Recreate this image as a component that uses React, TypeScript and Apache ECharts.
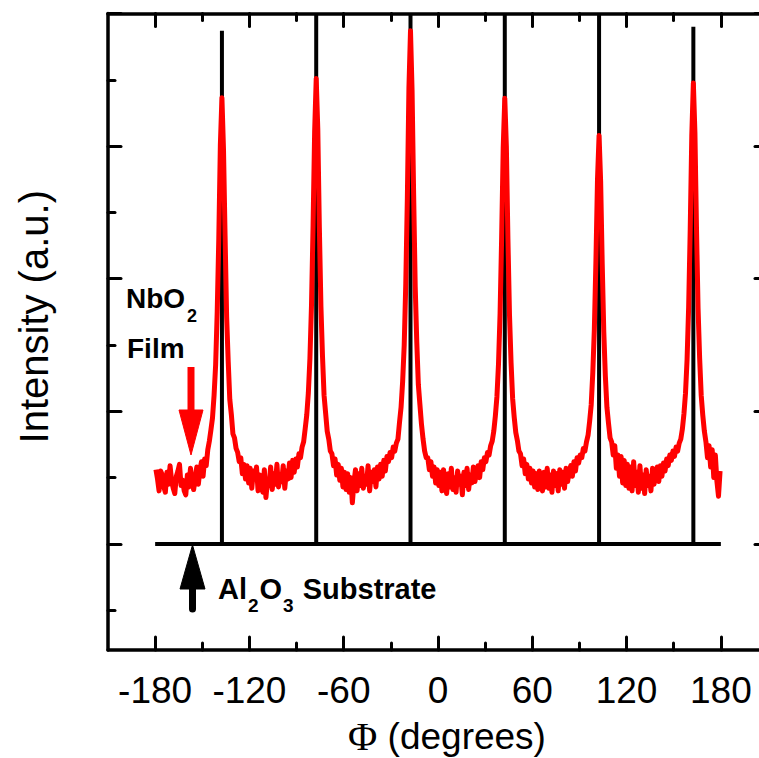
import React, { useEffect, useRef } from 'react';
import * as echarts from 'echarts';

// ---- axis ranges and ticks ----
const PHI_MIN = -210;
const PHI_MAX = 210;
const INT_MIN = -1.6;
const INT_MAX = 8;
const phiMajorTicks = [-180, -120, -60, 0, 60, 120, 180];
const phiMinorTicks = [-150, -90, -30, 30, 90, 150];
const intMajorTicks = [0, 2, 4, 6, 8];
const intMinorTicks = [-1, 1, 3, 5, 7];

// ---- NbO2 film phi scan (red), sampled every 1 degree from -179.5 ----
const filmPhiStart = -179.5;
const filmPhiStep = 1;
const filmIntensity = [
  // -179.5 .. -145.5
  1.12, 0.98, 0.80, 1.10, 1.04, 0.86, 0.78, 1.08, 0.90, 1.18,
  0.95, 0.84, 0.76, 1.02, 1.10, 1.20, 0.88, 0.96, 0.80, 0.74,
  1.04, 0.86, 1.14, 0.92, 0.82, 1.00, 1.16, 0.90, 1.12, 1.24,
  1.02, 1.28, 1.18, 1.42, 1.55,
  // peak 1
  1.72, 1.90, 2.24, 2.70, 3.50, 4.60, 6.02, 6.73, 5.95, 4.65, 3.42, 2.75, 2.18, 1.95, 1.66,
  // valley 1
  1.60, 1.44, 1.38, 1.24, 1.30, 1.06, 1.20, 0.98, 1.18, 0.92,
  1.14, 0.84, 1.10, 0.98, 1.16, 0.80, 1.04, 0.92, 0.78, 1.12,
  0.70, 0.96, 0.88, 1.16, 0.82, 1.06, 0.90, 1.20, 0.86, 1.02,
  0.94, 1.18, 0.84, 1.10, 0.98, 1.22, 1.00, 1.26, 1.08, 1.28,
  1.16, 1.36, 1.30, 1.46, 1.54,
  // peak 2
  1.74, 1.95, 2.28, 2.80, 3.60, 4.80, 6.22, 7.02, 6.26, 4.77, 3.58, 2.83, 2.24, 1.97, 1.70,
  // valley 2
  1.58, 1.40, 1.36, 1.18, 1.28, 1.04, 1.20, 0.96, 1.14, 0.86,
  1.08, 0.82, 1.06, 0.78, 1.00, 0.62, 0.92, 1.12, 0.80, 1.06,
  0.88, 1.14, 0.84, 1.02, 0.90, 1.18, 0.80, 1.08, 0.94, 1.12,
  0.86, 1.16, 0.98, 1.20, 1.02, 1.26, 1.10, 1.32, 1.24, 1.38,
  1.30, 1.46, 1.40, 1.52, 1.58,
  // peak 3
  1.83, 2.06, 2.45, 3.00, 3.93, 5.22, 6.88, 7.74, 6.84, 5.27, 3.88, 3.04, 2.40, 2.10, 1.80,
  // valley 3
  1.58, 1.40, 1.30, 1.30, 1.12, 1.24, 1.02, 1.16, 0.92, 1.12,
  0.88, 1.08, 0.80, 1.12, 0.92, 0.76, 1.06, 0.86, 1.14, 0.82,
  1.00, 0.78, 1.10, 0.90, 1.02, 0.74, 1.08, 0.88, 1.14, 0.82,
  1.04, 0.92, 1.16, 0.94, 1.08, 1.18, 1.00, 1.24, 1.12, 1.30,
  1.24, 1.38, 1.34, 1.48, 1.55,
  // peak 4
  1.70, 1.93, 2.22, 2.71, 3.47, 4.62, 5.98, 6.72, 6.00, 4.60, 3.45, 2.73, 2.19, 1.91, 1.68,
  // valley 4
  1.56, 1.40, 1.36, 1.18, 1.28, 1.06, 1.20, 0.98, 1.14, 0.92,
  1.10, 0.86, 1.06, 0.82, 1.10, 0.90, 0.80, 1.08, 0.86, 1.14,
  0.84, 1.04, 0.78, 1.10, 0.88, 1.06, 0.80, 1.12, 0.90, 1.08,
  0.84, 1.14, 0.94, 1.10, 1.18, 1.02, 1.24, 1.10, 1.30, 1.22,
  1.34, 1.30, 1.44, 1.40, 1.54,
  // peak 5
  1.64, 1.85, 2.10, 2.58, 3.24, 4.27, 5.50, 6.16, 5.47, 4.23, 3.20, 2.53, 2.06, 1.82, 1.60,
  // valley 5
  1.54, 1.34, 1.48, 1.14, 1.34, 1.02, 1.32, 0.92, 1.26, 0.88,
  1.20, 0.84, 1.16, 0.80, 1.24, 0.88, 1.08, 0.78, 1.18, 0.84,
  1.04, 0.76, 1.12, 0.88, 1.02, 0.80, 1.14, 0.90, 1.06, 1.16,
  0.94, 1.18, 1.02, 1.22, 1.10, 1.28, 1.18, 1.34, 1.26, 1.40,
  1.32, 1.46, 1.40, 1.52, 1.58,
  // peak 6
  1.73, 1.96, 2.27, 2.78, 3.57, 4.74, 6.16, 6.95, 6.20, 4.76, 3.55, 2.80, 2.24, 1.94, 1.70,
  // 170.5 .. 179.5
  1.54, 1.30, 1.48, 1.16, 1.42, 1.00, 1.34, 0.94, 0.72, 1.10,
];

// ---- Al2O3 substrate phi scan (black) ----
const substrateSpan = [-180, 180];
const substrateBaseline = 0;
const substratePeakPhi = [-137.5, -77.5, -17.5, 42.5, 102.5, 162.5];
const substratePeakHeight = [7.74, 8.0, 8.0, 8.0, 8.0, 7.8];

const FONT = '"Liberation Sans", Arial, Helvetica, sans-serif';

function buildOption() {
  const filmData = filmIntensity.map((v, i) => [filmPhiStart + i * filmPhiStep, v]);
  const substrateData: number[][] = [[substrateSpan[0], substrateBaseline]];
  substratePeakPhi.forEach((p, i) => {
    substrateData.push([p, substrateBaseline], [p, substratePeakHeight[i]], [p, substrateBaseline]);
  });
  substrateData.push([substrateSpan[1], substrateBaseline]);

  const axisLine = { show: true, onZero: false, lineStyle: { color: '#000', width: 3.5 } };
  const noLine = { show: false, onZero: false };
  const tick = (values: number[], len: number) => ({
    show: true,
    inside: true,
    length: len,
    customValues: values,
    lineStyle: { color: '#000', width: 3, cap: 'round' },
  });

  const xBase = { type: 'value', min: PHI_MIN, max: PHI_MAX, splitLine: { show: false } };
  const yBase = { type: 'value', min: INT_MIN, max: INT_MAX, splitLine: { show: false } };

  return {
    animation: false,
    backgroundColor: '#fff',
    grid: { left: 108, top: 13.5, width: 660, height: 636.5, containLabel: false, outerBoundsMode: 'none' },
    xAxis: [
      {
        ...xBase,
        position: 'bottom',
        axisLine,
        axisTick: tick(phiMajorTicks, 13),
        axisLabel: {
          show: true,
          customValues: phiMajorTicks,
          margin: 22,
          color: '#000',
          fontFamily: FONT,
          fontSize: 37,
        },
        name: '{phi|\u03A6} (degrees)',
        nameLocation: 'middle',
        nameGap: 66,
        nameTextStyle: {
          color: '#000',
          fontFamily: FONT,
          fontSize: 37,
          padding: [0, 0, 0, 18],
          rich: { phi: { fontFamily: '"Liberation Serif", "Times New Roman", serif', fontSize: 40, color: '#000' } },
        },
      },
      { ...xBase, position: 'bottom', axisLine: noLine, axisTick: tick(phiMinorTicks, 7), axisLabel: { show: false } },
      { ...xBase, position: 'top', axisLine, axisTick: tick(phiMajorTicks, 13), axisLabel: { show: false } },
      { ...xBase, position: 'top', axisLine: noLine, axisTick: tick(phiMinorTicks, 7), axisLabel: { show: false } },
    ],
    yAxis: [
      {
        ...yBase,
        position: 'left',
        axisLine,
        axisTick: tick(intMajorTicks, 13),
        axisLabel: { show: false },
        name: 'Intensity (a.u.)',
        nameLocation: 'middle',
        nameRotate: 90,
        nameGap: 54,
        nameTextStyle: { color: '#000', fontFamily: FONT, fontSize: 40, padding: [0, 0, 0, 30] },
      },
      { ...yBase, position: 'left', axisLine: noLine, axisTick: tick(intMinorTicks, 7), axisLabel: { show: false } },
      { ...yBase, position: 'right', axisLine, axisTick: tick(intMajorTicks, 13), axisLabel: { show: false } },
      { ...yBase, position: 'right', axisLine: noLine, axisTick: tick(intMinorTicks, 7), axisLabel: { show: false } },
    ],
    series: [
      {
        name: 'Al2O3 Substrate',
        type: 'line',
        xAxisIndex: 0,
        yAxisIndex: 0,
        data: substrateData,
        showSymbol: false,
        symbol: 'none',
        clip: true,
        z: 2,
        lineStyle: { color: '#000', width: 4, join: 'miter', cap: 'butt' },
      },
      {
        name: 'NbO2 Film',
        type: 'line',
        xAxisIndex: 0,
        yAxisIndex: 0,
        data: filmData,
        showSymbol: false,
        symbol: 'none',
        clip: true,
        z: 3,
        lineStyle: { color: '#ff0000', width: 5, join: 'round' },
      },
    ],
    graphic: [
      {
        type: 'text',
        z: 10,
        style: {
          text: '{m|NbO}{s|2}',
          x: 126,
          y: 284,
          verticalAlign: 'top',
          fill: '#000',
          fontFamily: FONT,
          fontSize: 28,
          fontWeight: 'bold',
          rich: {
            m: { fontFamily: FONT, fontSize: 28, fontWeight: 'bold', verticalAlign: 'top', fill: '#000' },
            s: { fontFamily: FONT, fontSize: 18, fontWeight: 'bold', verticalAlign: 'top', padding: [23, 0, 0, 2], fill: '#000' },
          },
        },
      },
      {
        type: 'text',
        z: 10,
        style: { text: 'Film', x: 127, y: 348, verticalAlign: 'middle', fill: '#000', fontFamily: FONT, fontSize: 28, fontWeight: 'bold' },
      },
      {
        type: 'line',
        z: 10,
        shape: { x1: 191, y1: 367, x2: 191, y2: 414 },
        style: { stroke: '#ff0000', lineWidth: 7, lineCap: 'butt' },
      },
      {
        type: 'polygon',
        z: 10,
        shape: { points: [[179, 410], [203, 410], [191, 455]] },
        style: { fill: '#ff0000', stroke: '#ff0000', lineWidth: 1, lineJoin: 'round' },
      },
      {
        type: 'line',
        z: 10,
        shape: { x1: 192.5, y1: 586, x2: 192.5, y2: 609 },
        style: { stroke: '#000', lineWidth: 7, lineCap: 'round' },
      },
      {
        type: 'polygon',
        z: 10,
        shape: { points: [[180, 589], [205, 589], [192.5, 545]] },
        style: { fill: '#000', stroke: '#000', lineWidth: 1, lineJoin: 'round' },
      },
      {
        type: 'text',
        z: 10,
        style: {
          text: '{m|Al}{s|2}{m|O}{s|3}{m| Substrate}',
          x: 218,
          y: 574,
          verticalAlign: 'top',
          fill: '#000',
          fontFamily: FONT,
          fontSize: 29,
          fontWeight: 'bold',
          rich: {
            m: { fontFamily: FONT, fontSize: 29, fontWeight: 'bold', verticalAlign: 'top', fill: '#000' },
            s: { fontFamily: FONT, fontSize: 19, fontWeight: 'bold', verticalAlign: 'top', padding: [22, 1, 0, 1], fill: '#000' },
          },
        },
      },
    ],
  };
}

export default function App() {
  const ref = useRef<HTMLDivElement>(null);
  useEffect(() => {
    if (!ref.current) return;
    const chart = echarts.init(ref.current, undefined, { renderer: 'svg' });
    chart.setOption(buildOption() as any);
    return () => chart.dispose();
  }, []);
  return (
    <div
      ref={ref}
      style={{ position: 'absolute', left: 0, top: 0, width: 759, height: 758, background: '#fff' }}
    />
  );
}
